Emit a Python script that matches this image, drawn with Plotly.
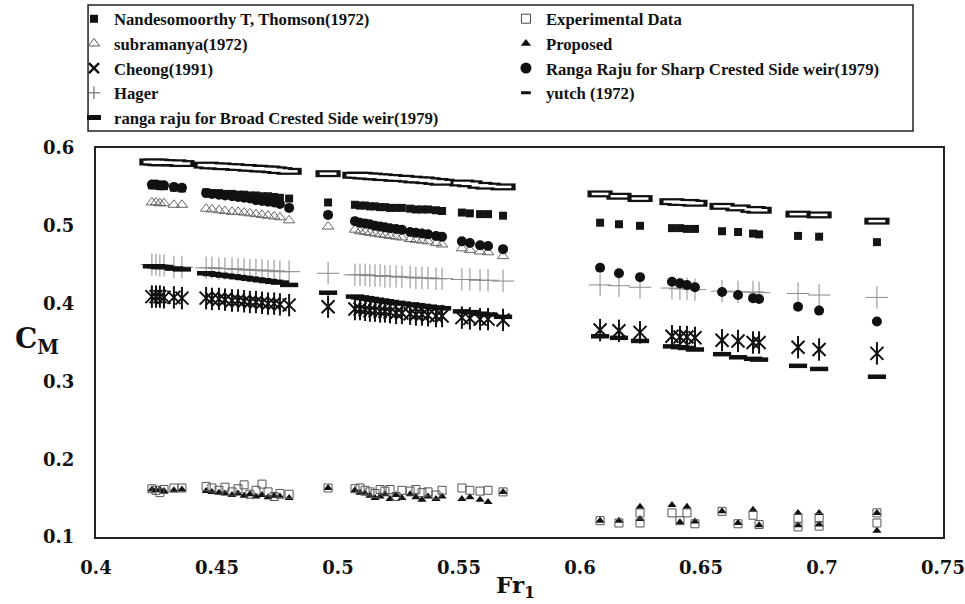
import plotly.graph_objects as go

# ---------------- data ----------------
FR1 = [0.4231, 0.4248, 0.4264, 0.4281,
       0.4322, 0.4355,
       0.4455, 0.4479, 0.4508, 0.4533, 0.4562, 0.4587, 0.4612, 0.4636, 0.4661, 0.4686, 0.4711, 0.4736, 0.4760, 0.4798,
       0.4959,
       0.5070, 0.5091, 0.5112, 0.5132, 0.5153, 0.5174, 0.5194, 0.5215, 0.5240, 0.5264, 0.5298, 0.5322, 0.5347, 0.5372,
       0.5405, 0.5430, 0.5512, 0.5545, 0.5587, 0.5620, 0.5682,
       0.6083, 0.6161, 0.6248, 0.6380, 0.6413, 0.6442, 0.6475, 0.6587, 0.6653, 0.6715, 0.6740, 0.6901, 0.6988, 0.7227]

YUTCH = [0.582, 0.582, 0.581, 0.581,
         0.581, 0.580,
         0.578, 0.577, 0.577, 0.576, 0.576, 0.575, 0.575, 0.574, 0.574, 0.573, 0.573, 0.572, 0.571, 0.570,
         0.567,
         0.565, 0.565, 0.564, 0.564, 0.563, 0.563, 0.562, 0.562, 0.561, 0.561, 0.560, 0.559, 0.559, 0.558,
         0.557, 0.556, 0.555, 0.554, 0.552, 0.551, 0.550,
         0.541, 0.538, 0.535, 0.531, 0.530, 0.530, 0.529, 0.525, 0.523, 0.521, 0.520, 0.515, 0.514, 0.506]

NANDESOMOORTHY = [0.552, 0.552, 0.551, 0.551,
                  0.549, 0.548,
                  0.543, 0.542, 0.542, 0.541, 0.541, 0.540, 0.540, 0.539, 0.539, 0.538, 0.538, 0.537, 0.536, 0.535,
                  0.530,
                  0.527, 0.526, 0.526, 0.525, 0.525, 0.524, 0.524, 0.523, 0.523, 0.523, 0.522, 0.521, 0.521, 0.521,
                  0.520, 0.519, 0.517, 0.516, 0.515, 0.515, 0.513,
                  0.504, 0.502, 0.500, 0.497, 0.497, 0.496, 0.496, 0.493, 0.492, 0.490, 0.489, 0.487, 0.486, 0.479]

RANGA_SHARP = [0.553, 0.553, 0.552, 0.552,
               0.550, 0.549,
               0.542, 0.541, 0.540, 0.539, 0.538, 0.537, 0.536, 0.535, 0.533, 0.532, 0.531, 0.530, 0.528, 0.523,
               0.514,
               0.506, 0.504, 0.503, 0.502, 0.500, 0.499, 0.498, 0.497, 0.496, 0.495, 0.492, 0.491, 0.490, 0.489,
               0.487, 0.486, 0.480, 0.478, 0.475, 0.474, 0.470,
               0.446, 0.439, 0.434, 0.428, 0.426, 0.424, 0.421, 0.415, 0.411, 0.407, 0.406, 0.396, 0.391, 0.377]

SUBRAMANYA = [0.530, 0.530, 0.529, 0.529,
              0.527, 0.527,
              0.522, 0.521, 0.520, 0.519, 0.518, 0.518, 0.517, 0.516, 0.515, 0.514, 0.513, 0.512, 0.511, 0.507,
              0.499,
              0.495, 0.493, 0.492, 0.491, 0.490, 0.489, 0.488, 0.487, 0.486, 0.485, 0.483, 0.482, 0.481, 0.480,
              0.478, 0.476, 0.471, 0.469, 0.467, 0.466, 0.461,
              None, None, None, None, None, None, None, None, None, None, None, None, None, None]

HAGER = [0.450, 0.450, 0.449, 0.449,
         0.447, 0.447,
         0.446, 0.446, 0.445, 0.445, 0.445, 0.444, 0.444, 0.443, 0.443, 0.443, 0.442, 0.442, 0.441, 0.441,
         0.439,
         0.437, 0.437, 0.437, 0.436, 0.436, 0.436, 0.435, 0.435, 0.435, 0.434, 0.434, 0.433, 0.433, 0.433,
         0.432, 0.432, 0.431, 0.431, 0.430, 0.430, 0.429,
         0.424, 0.423, 0.421, 0.420, 0.419, 0.419, 0.418, 0.416, 0.415, 0.415, 0.414, 0.413, 0.411, 0.408]

RANGA_BROAD = [0.448, 0.448, 0.447, 0.447,
               0.445, 0.444,
               0.439, 0.438, 0.437, 0.436, 0.435, 0.434, 0.433, 0.432, 0.431, 0.430, 0.429, 0.428, 0.427, 0.424,
               0.414,
               0.409, 0.408, 0.407, 0.406, 0.405, 0.404, 0.403, 0.402, 0.401, 0.400, 0.399, 0.398, 0.397, 0.396,
               0.395, 0.394, 0.390, 0.389, 0.387, 0.386, 0.383,
               0.358, 0.356, 0.352, 0.345, 0.344, 0.343, 0.341, 0.335, 0.331, 0.329, 0.328, 0.320, 0.316, 0.306]

CHEONG = [0.409, 0.409, 0.409, 0.408,
          0.408, 0.407,
          0.407, 0.406, 0.406, 0.405, 0.404, 0.404, 0.403, 0.402, 0.402, 0.401, 0.400, 0.400, 0.399, 0.398,
          0.396,
          0.393, 0.393, 0.392, 0.391, 0.391, 0.390, 0.390, 0.389, 0.388, 0.388, 0.387, 0.386, 0.386, 0.385,
          0.384, 0.384, 0.382, 0.381, 0.380, 0.380, 0.379,
          0.366, 0.365, 0.363, 0.358, 0.357, 0.357, 0.356, 0.353, 0.352, 0.350, 0.350, 0.344, 0.341, 0.336]

EXPERIMENTAL = [0.162, 0.160, 0.157, 0.161,
                0.163, 0.163,
                0.165, 0.163, 0.160, 0.164, 0.158, 0.162, 0.167, 0.155, 0.160, 0.168, 0.158, 0.152, 0.156, 0.155,
                0.163,
                0.162, 0.163, 0.160, 0.158, 0.156, 0.161, 0.159, 0.161, 0.152, 0.160, 0.159, 0.161, 0.157, 0.158,
                0.154, 0.160, 0.163, 0.160, 0.159, 0.160, 0.158,
                0.121, 0.118, 0.131, 0.131, 0.121, 0.131, 0.117, 0.133, 0.117, 0.128, 0.116, 0.124, 0.125, 0.131]

PROPOSED = [0.161, 0.160, 0.161, 0.159,
            0.160, 0.161,
            0.159, 0.158, 0.157, 0.156, 0.154, 0.156, 0.153, 0.155, 0.152, 0.154, 0.151, 0.153, 0.152, 0.150,
            0.163,
            0.160, 0.157, 0.156, 0.153, 0.150, 0.152, 0.155, 0.149, 0.154, 0.150, 0.155, 0.151, 0.148, 0.152,
            0.149, 0.152, 0.149, 0.151, 0.148, 0.145, 0.158,
            0.121, 0.121, 0.139, 0.141, 0.119, 0.139, 0.120, 0.133, 0.118, 0.135, 0.115, 0.131, 0.131, 0.131]

# second runs recorded at a few Froude numbers
FR1_EXTRA = [0.6248, 0.6901, 0.6988, 0.7227]
EXPERIMENTAL_EXTRA = [0.118, 0.113, 0.114, 0.118]
PROPOSED_EXTRA = [0.123, 0.115, 0.116, 0.108]

X_TICKS = [0.4, 0.45, 0.5, 0.55, 0.6, 0.65, 0.7, 0.75]
X_TICK_TEXT = ["0.4", "0.45", "0.5", "0.55", "0.6", "0.65", "0.7", "0.75"]
Y_TICKS = [0.1, 0.2, 0.3, 0.4, 0.5, 0.6]
Y_TICK_TEXT = ["0.1", "0.2", "0.3", "0.4", "0.5", "0.6"]

LEGEND_COL1 = ["Nandesomoorthy T, Thomson(1972)", "subramanya(1972)", "Cheong(1991)", "Hager",
               "ranga raju for Broad Crested Side weir(1979)"]
LEGEND_COL2 = ["Experimental Data", "Proposed", "Ranga Raju for Sharp Crested Side weir(1979)", "yutch (1972)"]

# ---------------- figure ----------------
fig = go.Figure()


def add_points(x, y, symbol, size, color, lw=0, lcolor=None):
    fig.add_trace(go.Scatter(
        x=x, y=y, mode="markers", showlegend=False, hoverinfo="skip",
        marker=dict(symbol=symbol, size=size, color=color,
                    line=dict(width=lw, color=lcolor if lcolor else color))))


x_all = FR1 + FR1_EXTRA

add_points(FR1, HAGER, "cross-thin-open", 16, "#8a8a8a", 1)
add_points(FR1, CHEONG, "x-thin-open", 13, "#111111", 2)
add_points(FR1, CHEONG, "line-ns-open", 16, "#111111", 2)
add_points(FR1, RANGA_BROAD, "line-ew-open", 13, "#111111", 4.5)
add_points(FR1, SUBRAMANYA, "triangle-up-open", 10, "#666666", 1)
add_points(FR1, NANDESOMOORTHY, "square", 8, "#151515")
add_points(FR1, RANGA_SHARP, "circle", 10, "#111111")
add_points(FR1, YUTCH, "line-ew-open", 18, "#111111", 7)
add_points(FR1, YUTCH, "line-ew-open", 12, "#ffffff", 2.5)
add_points(x_all, PROPOSED + PROPOSED_EXTRA, "triangle-up", 8, "#111111")
add_points(x_all, EXPERIMENTAL + EXPERIMENTAL_EXTRA, "square-open", 8, "#555555", 1)

# legend entries
leg_styles1 = [("square", 8, "#111111", 0), ("triangle-up-open", 10, "#555555", 1),
               ("x-thin-open", 10, "#111111", 2.5), ("cross-thin-open", 9, "#555555", 1),
               ("line-ew-open", 10, "#111111", 5)]
leg_styles2 = [("square-open", 9, "#444444", 1), ("triangle-up", 9, "#111111", 0),
               ("circle", 11, "#111111", 0), ("line-ew-open", 7, "#111111", 3)]

for i, (name, st) in enumerate(zip(LEGEND_COL1, leg_styles1)):
    fig.add_trace(go.Scatter(x=[None], y=[None], mode="markers", name=name, legend="legend",
                             legendgroup="a%d" % i, hoverinfo="skip",
                             marker=dict(symbol=st[0], size=st[1], color=st[2],
                                         line=dict(width=st[3], color=st[2]))))
for i, (name, st) in enumerate(zip(LEGEND_COL2, leg_styles2)):
    fig.add_trace(go.Scatter(x=[None], y=[None], mode="markers", name=name, legend="legend2",
                             legendgroup="b%d" % i, hoverinfo="skip",
                             marker=dict(symbol=st[0], size=st[1], color=st[2],
                                         line=dict(width=st[3], color=st[2]))))

legend_font = dict(family="Liberation Serif", size=16.7, color="#111111", weight="bold")
common_leg = dict(orientation="v", bgcolor="rgba(0,0,0,0)", borderwidth=0, font=legend_font,
                  tracegroupgap=0, itemsizing="trace", xanchor="left", yanchor="top",
                  xref="paper", yref="paper", itemclick=False, itemdoubleclick=False)

tick_font = dict(family="DejaVu Serif", size=18, color="#111111", weight="bold")

fig.update_layout(
    width=965, height=604,
    margin=dict(l=96, r=22, t=148, b=67, autoexpand=False),
    paper_bgcolor="white", plot_bgcolor="white",
    showlegend=True,
    legend=dict(x=-0.026, y=1.377, **common_leg),
    legend2=dict(x=0.484, y=1.377, **common_leg),
    xaxis=dict(range=[0.4, 0.75], tickvals=X_TICKS, ticktext=X_TICK_TEXT, showgrid=False,
               zeroline=False, showline=True, linecolor="#222222", linewidth=2, mirror=True,
               ticks="", tickfont=tick_font, ticklabelstandoff=13),
    yaxis=dict(range=[0.1, 0.6], tickvals=Y_TICKS, ticktext=Y_TICK_TEXT, showgrid=False,
               zeroline=False, showline=True, linecolor="#222222", linewidth=2, mirror=True,
               ticks="", tickfont=tick_font, ticklabelstandoff=16),
    shapes=[dict(type="rect", xref="paper", yref="paper", x0=-0.0094, x1=0.9646, y0=1.0437, y1=1.3676,
                 line=dict(color="#222222", width=1.5), fillcolor="rgba(0,0,0,0)", layer="above")],
    annotations=[
        dict(text="C<sub>M</sub>", xref="paper", yref="paper", x=-0.070, y=0.505, showarrow=False,
             xanchor="center", yanchor="middle",
             font=dict(family="DejaVu Serif", size=28, color="#111111", weight="bold")),
        dict(text="Fr<sub>1</sub>", xref="paper", yref="paper", x=0.4947, y=-0.127, showarrow=False,
             xanchor="center", yanchor="middle",
             font=dict(family="DejaVu Serif", size=23, color="#111111", weight="bold")),
    ],
)

fig.write_html("out.html")
